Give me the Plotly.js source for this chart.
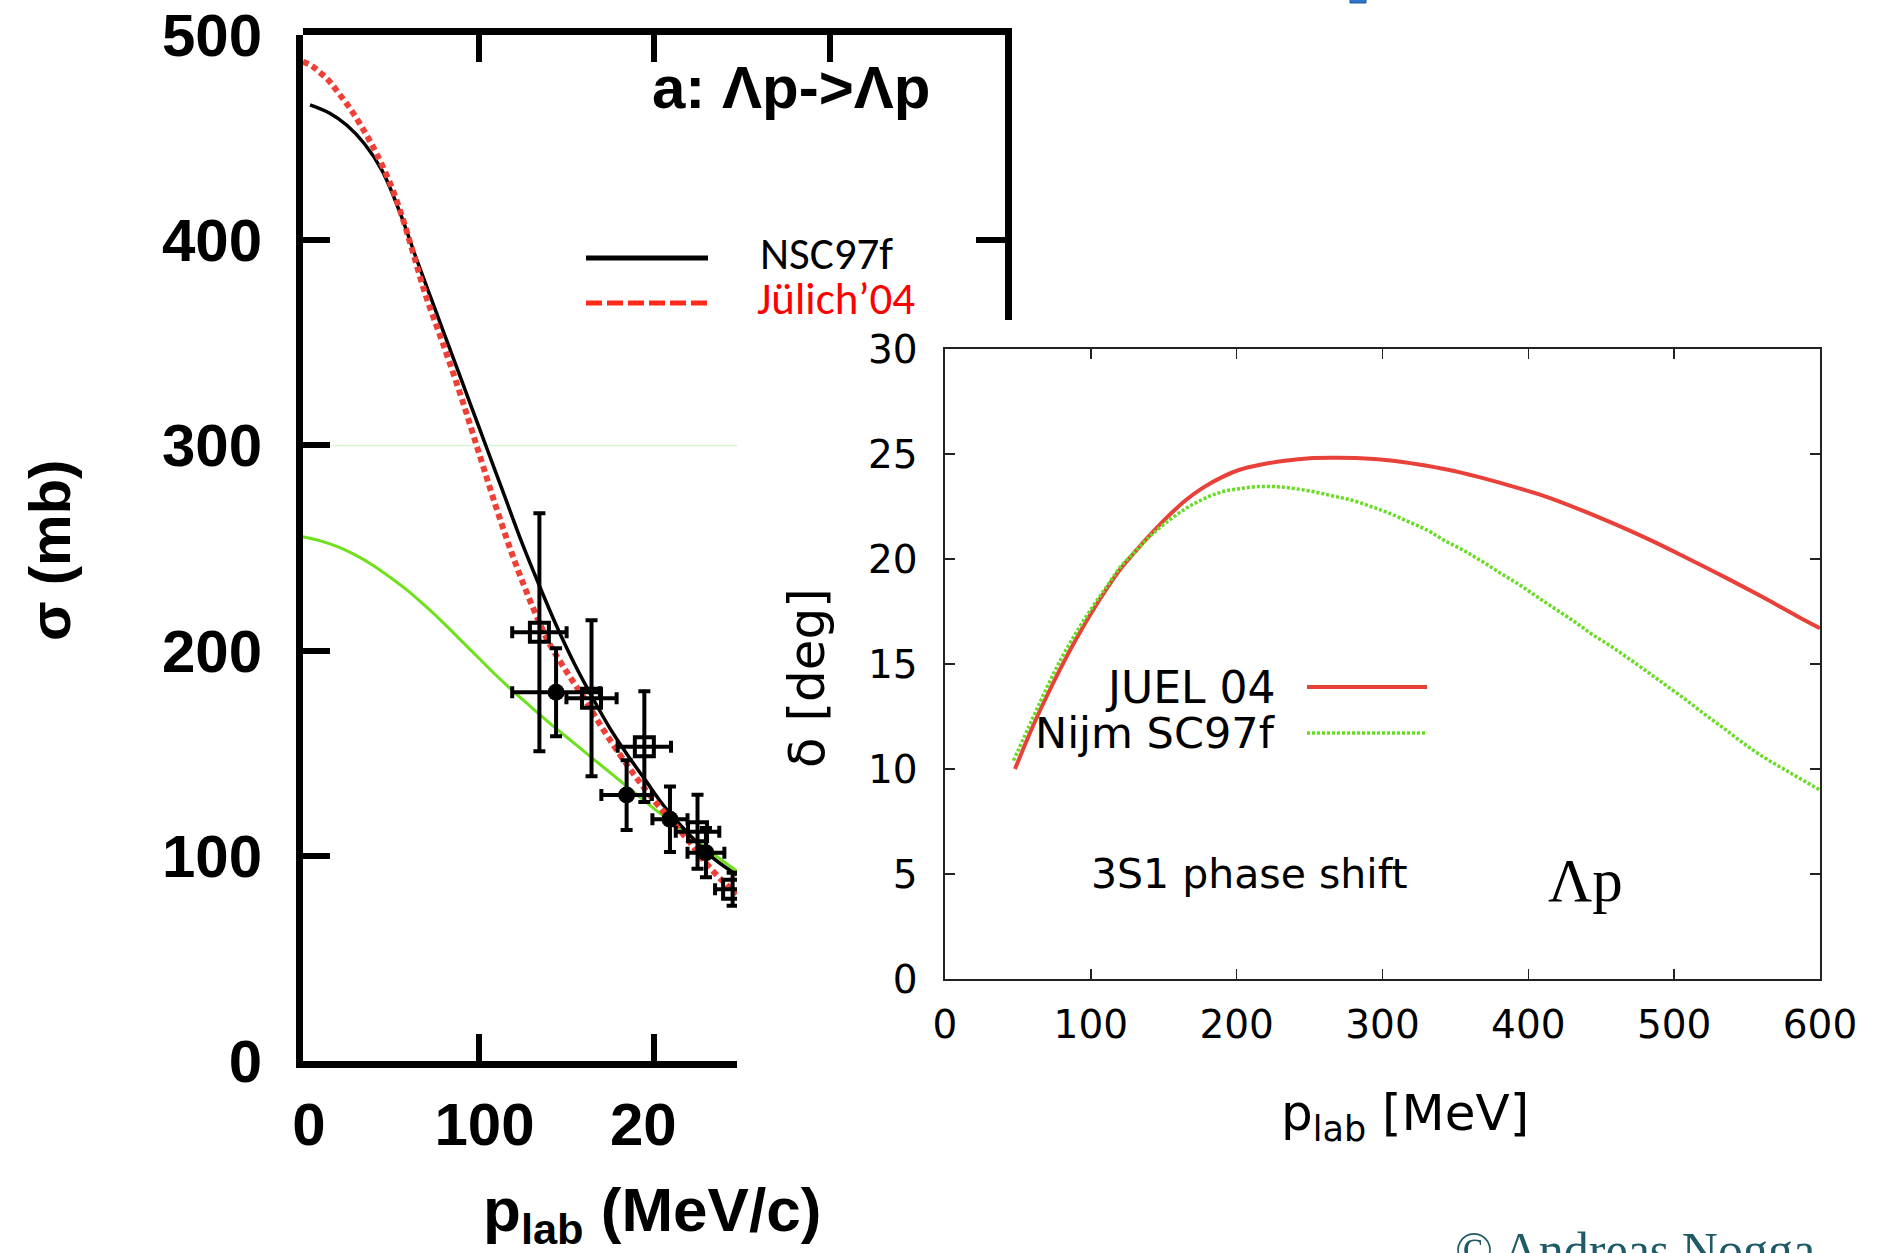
<!DOCTYPE html>
<html><head><meta charset="utf-8">
<script src="https://cdn.plot.ly/plotly-3.0.1.min.js"></script>
<style>html,body{margin:0;padding:0;background:#fff;} #chart{width:1885px;height:1253px;}</style>
</head><body><div id="chart"></div>
<script>
// ===== Left panel: Λp -> Λp cross section (mb) vs p_lab (MeV/c) =====
const nscP     = [4, 15, 25, 35, 45, 55, 65, 75, 85, 95, 105, 115, 125, 135, 145, 155, 165, 175, 185, 195, 205, 215, 225, 235, 247.3];
const nscSigma = [466, 462, 456, 447, 434, 414, 390, 367, 344, 321, 298, 275, 252, 231, 211, 193, 177, 162, 149, 137, 125, 115, 106, 98, 90.6];

const julP     = [0, 5, 10, 15, 20, 27, 35, 42, 50, 57, 62, 70, 80, 90, 100, 110, 120, 131, 140, 150, 160, 170, 180, 190, 200, 210, 220, 230, 240, 247.3];
const julSigma = [487, 485, 481.5, 477.5, 472, 464, 453, 442, 427, 410, 396, 373, 349, 324, 297, 270, 245, 221, 204, 190, 177, 163, 150, 138, 127, 117, 107, 96, 87, 81.5];

const othP     = [0, 10, 20, 30, 40, 50, 60, 70, 80, 90, 100, 110, 120, 130, 140, 150, 160, 170, 180, 190, 200, 210, 220, 230, 240, 247.3];
const othSigma = [255.5, 253.5, 250.5, 246.5, 241.5, 235.5, 229, 221.5, 213.5, 205, 196.5, 188, 180, 172.5, 165, 158, 151, 144, 137, 130, 123, 116.5, 110, 103.5, 97, 92.5];

const sqP        = [134.7, 164.4, 194.5, 224.8, 244.8];
const sqSigma    = [208.9, 176.8, 153.2, 111.7, 83.7];
const sqSigmaErr = [58, 38, 27, 18, 8];
const sqPErr     = [15.5, 14.3, 15.2, 12.4, 10];

const dotP        = [144.2, 184.4, 209.1, 229.6];
const dotSigma    = [179.7, 129.6, 117.8, 101.5];
const dotSigmaErr = [21.5, 17, 16, 12];
const dotPErr     = [25, 14.4, 10, 10.5];

const faintLevel = 300;
const leftXTicks = [0, 100, 200];
const leftXTickText = ['0', '100', '20\u2007'];
const leftYTicks = [0, 100, 200, 300, 400, 500];

// ===== Right panel: 3S1 phase shift (deg) vs p_lab (MeV) =====
const juelP     = [48, 60, 70, 80, 90, 100, 111, 120, 131, 140, 151, 165, 177, 190, 202, 217, 233, 250, 269, 285, 304, 325, 345, 365, 386, 410, 432, 457, 483, 508, 534, 560, 585, 600];
const juelDelta = [10.0, 12.0, 13.5, 14.9, 16.2, 17.4, 18.6, 19.5, 20.4, 21.1, 21.9, 22.8, 23.4, 23.9, 24.25, 24.5, 24.68, 24.8, 24.82, 24.8, 24.7, 24.5, 24.25, 23.92, 23.52, 23.02, 22.45, 21.73, 20.92, 20.07, 19.16, 18.21, 17.25, 16.7];

const nijmP     = [47, 60, 70, 80, 90, 100, 111, 120, 131, 140, 151, 165, 177, 190, 202, 215, 228, 240, 253, 266, 279, 292, 304, 317, 330, 342, 355, 368, 381, 394, 406, 419, 432, 444, 457, 470, 483, 495, 508, 521, 534, 546, 559, 580, 600];
const nijmDelta = [10.4, 12.4, 13.9, 15.3, 16.5, 17.6, 18.7, 19.6, 20.4, 21.05, 21.7, 22.4, 22.85, 23.2, 23.35, 23.45, 23.44, 23.35, 23.2, 23.0, 22.8, 22.5, 22.2, 21.8, 21.4, 20.9, 20.43, 19.9, 19.32, 18.77, 18.2, 17.6, 17.0, 16.4, 15.83, 15.2, 14.56, 13.95, 13.3, 12.6, 11.94, 11.3, 10.67, 9.8, 9.0];

const rightXTicks = [0, 100, 200, 300, 400, 500, 600];
const rightYTicks = [0, 5, 10, 15, 20, 25, 30];

// ===== geometry helpers (pixel -> paper) =====
const W = 1885, H = 1253;
const fx = px => px / W;
const fy = py => 1 - py / H;
const leftPxPerP = (1005 - 303) / 400;
const leftPxPerS = (1061 - 35) / 500;
const leftXMax = (737 - 303) / leftPxPerP;

const SANS = '"Liberation Sans", Arial, Helvetica, sans-serif';
const DEJ = '"DejaVu Sans", sans-serif';
const SERIF = '"Liberation Serif", "Times New Roman", serif';
const CAL = 'Carlito, Lato, sans-serif';

const traces = [
  { x: [27 / leftPxPerP, leftXMax], y: [faintLevel, faintLevel], xaxis: 'x', yaxis: 'y', mode: 'lines',
    line: { color: '#dcf3d6', width: 1.5 }, hoverinfo: 'skip', showlegend: false },
  { x: othP, y: othSigma, xaxis: 'x', yaxis: 'y', mode: 'lines',
    line: { color: '#6fe01c', width: 3, shape: 'spline' }, showlegend: false },
  { x: nscP, y: nscSigma, xaxis: 'x', yaxis: 'y', mode: 'lines', name: 'NSC97f',
    line: { color: '#000000', width: 3.5, shape: 'spline' }, showlegend: false },
  { x: julP, y: julSigma, xaxis: 'x', yaxis: 'y', mode: 'lines', name: 'Jülich’04',
    line: { color: '#ee4036', width: 6, dash: '6px,4px', shape: 'spline' }, showlegend: false },
  { x: sqP, y: sqSigma, xaxis: 'x', yaxis: 'y', mode: 'markers', showlegend: false,
    marker: { symbol: 'square-open', size: 19, color: '#000', line: { width: 4, color: '#000' } },
    error_y: { type: 'data', array: sqSigmaErr, visible: true, color: '#000', thickness: 4, width: 6 },
    error_x: { type: 'data', array: sqPErr, visible: true, color: '#000', thickness: 4, width: 6 } },
  { x: dotP, y: dotSigma, xaxis: 'x', yaxis: 'y', mode: 'markers', showlegend: false,
    marker: { symbol: 'circle', size: 17, color: '#000' },
    error_y: { type: 'data', array: dotSigmaErr, visible: true, color: '#000', thickness: 4, width: 6 },
    error_x: { type: 'data', array: dotPErr, visible: true, color: '#000', thickness: 4, width: 6 } },
  { x: [], y: [], xaxis: 'x3', yaxis: 'y3', mode: 'lines', showlegend: false },
  { x: juelP, y: juelDelta, xaxis: 'x2', yaxis: 'y2', mode: 'lines', name: 'JUEL 04',
    line: { color: '#e8413a', width: 4, shape: 'spline', smoothing: 1 }, showlegend: false },
  { x: nijmP, y: nijmDelta, xaxis: 'x2', yaxis: 'y2', mode: 'lines', name: 'Nijm SC97f',
    line: { color: '#66dd22', width: 3.5, dash: '3px,2px', shape: 'spline', smoothing: 1 }, showlegend: false }
];

const leftAxisCommon = {
  showline: true, linewidth: 7, linecolor: '#000', ticks: 'inside', ticklen: 27, tickwidth: 6, tickcolor: '#000',
  showgrid: false, zeroline: false, fixedrange: true,
  tickfont: { family: SANS, size: 60, color: '#000', weight: 'bold' }
};
const rightAxisCommon = {
  showline: true, mirror: 'ticks', linewidth: 1.6, linecolor: '#222', ticks: 'inside', ticklen: 10, tickwidth: 1.4,
  tickcolor: '#222', showgrid: false, zeroline: false, fixedrange: true,
  tickfont: { family: DEJ, size: 39, color: '#000' }
};

const layout = {
  width: W, height: H, margin: { l: 0, r: 0, t: 0, b: 0 },
  paper_bgcolor: '#ffffff', plot_bgcolor: 'rgba(0,0,0,0)', showlegend: false,
  xaxis: Object.assign({}, leftAxisCommon, { domain: [fx(303), fx(737)], range: [0, leftXMax], anchor: 'y',
    tickvals: leftXTicks, ticktext: leftXTickText, ticklabelstandoff: 5, ticklabelshift: 6 }),
  yaxis: Object.assign({}, leftAxisCommon, { domain: [fy(1061), fy(35)], range: [0, 500], anchor: 'x',
    tickvals: leftYTicks, ticklabelstandoff: 22 }),
  xaxis3: Object.assign({}, leftAxisCommon, { domain: [fx(303), fx(1005)], range: [0, 400], anchor: 'y3', side: 'top',
    tickvals: [100, 200, 300], showticklabels: false }),
  yaxis3: Object.assign({}, leftAxisCommon, { domain: [fy(320), fy(35)], range: [500 - (320 - 35) / leftPxPerS, 500],
    anchor: 'x3', side: 'right', tickvals: [400], ticklen: 29, showticklabels: false }),
  xaxis2: Object.assign({}, rightAxisCommon, { domain: [fx(945), fx(1820)], range: [0, 600], anchor: 'y2',
    tickvals: rightXTicks, ticklabelstandoff: 11 }),
  yaxis2: Object.assign({}, rightAxisCommon, { domain: [fy(979), fy(349)], range: [0, 30], anchor: 'x2',
    tickvals: rightYTicks, ticklabelstandoff: 18 }),
  shapes: [
    { type: 'line', xref: 'paper', yref: 'paper', x0: fx(586), x1: fx(708), y0: fy(258), y1: fy(258), line: { color: '#000', width: 5 } },
    { type: 'line', xref: 'paper', yref: 'paper', x0: fx(586), x1: fx(708), y0: fy(303), y1: fy(303), line: { color: '#ff2a1a', width: 5, dash: '16px,5px' } },
    { type: 'line', xref: 'paper', yref: 'paper', x0: fx(1307), x1: fx(1427), y0: fy(687), y1: fy(687), line: { color: '#e8413a', width: 4 } },
    { type: 'line', xref: 'paper', yref: 'paper', x0: fx(1307), x1: fx(1427), y0: fy(733), y1: fy(733), line: { color: '#66dd22', width: 3.5, dash: '3px,2px' } },
    { type: 'rect', xref: 'paper', yref: 'paper', x0: fx(1350), x1: fx(1366), y0: fy(3), y1: fy(-3), fillcolor: '#2f74c8', line: { color: '#1a5aa8', width: 1 } }
  ],
  annotations: [
    { text: 'a: Λp->Λp', xref: 'paper', yref: 'paper', x: fx(650), y: fy(88), xanchor: 'left', yanchor: 'middle', showarrow: false,
      font: { family: SANS, size: 60, color: '#000', weight: 'bold' } },
    { text: 'NSC97f', xref: 'paper', yref: 'paper', x: fx(758), y: fy(253), xanchor: 'left', yanchor: 'middle', showarrow: false,
      font: { family: CAL, size: 45, color: '#000' } },
    { text: 'Jülich’04', xref: 'paper', yref: 'paper', x: fx(755), y: fy(298), xanchor: 'left', yanchor: 'middle', showarrow: false,
      font: { family: CAL, size: 45, color: '#ff0000' } },
    { text: 'σ (mb)', xref: 'paper', yref: 'paper', x: fx(49), y: fy(551), xanchor: 'center', yanchor: 'middle', textangle: -90, showarrow: false,
      font: { family: SANS, size: 58, color: '#000', weight: 'bold' } },
    { text: 'p<sub>lab</sub> (MeV/c)', xref: 'paper', yref: 'paper', x: fx(652), y: fy(1214), xanchor: 'center', yanchor: 'middle', showarrow: false,
      font: { family: SANS, size: 62, color: '#000', weight: 'bold' } },
    { text: 'JUEL 04', xref: 'paper', yref: 'paper', x: fx(1277), y: fy(687), xanchor: 'right', yanchor: 'middle', showarrow: false,
      font: { family: DEJ, size: 44, color: '#000' } },
    { text: 'Nijm SC97f', xref: 'paper', yref: 'paper', x: fx(1277), y: fy(733), xanchor: 'right', yanchor: 'middle', showarrow: false,
      font: { family: DEJ, size: 43, color: '#000' } },
    { text: '3S1 phase shift', xref: 'paper', yref: 'paper', x: fx(1089), y: fy(874), xanchor: 'left', yanchor: 'middle', showarrow: false,
      font: { family: DEJ, size: 41, color: '#000' } },
    { text: 'Λp', xref: 'paper', yref: 'paper', x: fx(1546), y: fy(880), xanchor: 'left', yanchor: 'middle', showarrow: false,
      font: { family: SERIF, size: 61, color: '#000' } },
    { text: 'p<sub>lab</sub> [MeV]', xref: 'paper', yref: 'paper', x: fx(1405), y: fy(1116), xanchor: 'center', yanchor: 'middle', showarrow: false,
      font: { family: DEJ, size: 50, color: '#000' } },
    { text: 'δ [deg]', xref: 'paper', yref: 'paper', x: fx(807), y: fy(678), xanchor: 'center', yanchor: 'middle', textangle: -90, showarrow: false,
      font: { family: DEJ, size: 50, color: '#000' } },
    { text: '© Andreas Nogga', xref: 'paper', yref: 'paper', x: fx(1453), y: fy(1250), xanchor: 'left', yanchor: 'middle', showarrow: false,
      font: { family: SERIF, size: 50, color: '#1f5a66' } }
  ]
};

Plotly.newPlot('chart', traces, layout, { staticPlot: true, displayModeBar: false });
</script>
</body></html>
